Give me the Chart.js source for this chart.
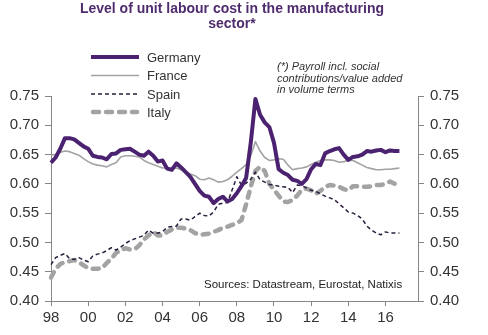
<!DOCTYPE html>
<html>
<head>
<meta charset="utf-8">
<script src="https://cdn.jsdelivr.net/npm/chart.js@4/dist/chart.umd.min.js"></script>
<style>
  html, body { margin: 0; padding: 0; background: #fff; }
  #wrap { position: relative; width: 488px; height: 335px; }
</style>
</head>
<body>
<div id="wrap"><canvas id="ulc-chart" width="488" height="335"></canvas></div>
<script>
// quarterly observations, 1998 Q1 .. 2016 Q4 (axis runs on to end of 2017)
const firstYear = 1998;
const lastYear = 2017;

const germany = [
    0.636, 0.645, 0.660, 0.678, 0.678, 0.676, 0.670, 0.664,
    0.660, 0.648, 0.646, 0.645, 0.642, 0.651, 0.652, 0.658,
    0.659, 0.660, 0.655, 0.650, 0.648, 0.655, 0.648, 0.638,
    0.640, 0.626, 0.624, 0.635, 0.628, 0.620, 0.612, 0.600,
    0.588, 0.580, 0.578, 0.567, 0.574, 0.578, 0.570, 0.574,
    0.584, 0.596, 0.610, 0.670, 0.745, 0.718, 0.705, 0.697,
    0.670, 0.625, 0.619, 0.615, 0.607, 0.605, 0.600, 0.608,
    0.625, 0.634, 0.632, 0.652, 0.656, 0.659, 0.661, 0.650,
    0.641, 0.646, 0.647, 0.650, 0.656, 0.655, 0.657, 0.658,
    0.654, 0.657, 0.656, 0.656
];
const france = [
    0.649, 0.650, 0.654, 0.656, 0.655, 0.652, 0.649, 0.643,
    0.638, 0.634, 0.632, 0.631, 0.629, 0.633, 0.636, 0.646,
    0.648, 0.648, 0.647, 0.646, 0.640, 0.636, 0.633, 0.630,
    0.627, 0.627, 0.626, 0.627, 0.624, 0.620, 0.617, 0.614,
    0.608, 0.607, 0.610, 0.607, 0.603, 0.604, 0.607, 0.613,
    0.620, 0.626, 0.633, 0.648, 0.672, 0.656, 0.645, 0.640,
    0.641, 0.643, 0.642, 0.632, 0.624, 0.626, 0.627, 0.629,
    0.633, 0.637, 0.640, 0.641, 0.641, 0.640, 0.637, 0.638,
    0.640, 0.640, 0.636, 0.632, 0.628, 0.626, 0.624, 0.624,
    0.625, 0.625, 0.626, 0.627
];
const spain = [
    0.462, 0.474, 0.478, 0.481, 0.472, 0.471, 0.474, 0.470,
    0.467, 0.477, 0.480, 0.482, 0.486, 0.491, 0.487, 0.492,
    0.498, 0.503, 0.506, 0.509, 0.512, 0.521, 0.516, 0.516,
    0.518, 0.526, 0.527, 0.528, 0.540, 0.540, 0.538, 0.544,
    0.550, 0.546, 0.545, 0.552, 0.565, 0.567, 0.568, 0.590,
    0.612, 0.598, 0.601, 0.608, 0.620, 0.607, 0.603, 0.599,
    0.598, 0.596, 0.595, 0.594, 0.585, 0.598, 0.597, 0.593,
    0.589, 0.587, 0.583, 0.579, 0.576, 0.573, 0.566, 0.559,
    0.552, 0.550, 0.546, 0.540, 0.528, 0.521, 0.516, 0.513,
    0.518, 0.516, 0.516, 0.516
];
const italy = [
    0.440, 0.455, 0.463, 0.467, 0.468, 0.470, 0.466, 0.461,
    0.456, 0.455, 0.455, 0.456, 0.465, 0.472, 0.482, 0.487,
    0.490, 0.488, 0.488, 0.495, 0.505, 0.512, 0.518, 0.512,
    0.512, 0.518, 0.522, 0.525, 0.525, 0.524, 0.521, 0.516,
    0.513, 0.514, 0.515, 0.518, 0.521, 0.525, 0.527, 0.530,
    0.533, 0.538, 0.565, 0.595, 0.622, 0.629, 0.622, 0.600,
    0.590, 0.580, 0.570, 0.569, 0.572, 0.580, 0.590, 0.592,
    0.589, 0.583, 0.588, 0.595, 0.598, 0.597, 0.595, 0.591,
    0.589, 0.596, 0.596, 0.595, 0.595, 0.596, 0.598, 0.598,
    0.600, 0.604, 0.600, 0.598
];

const yTicks = [0.40, 0.45, 0.50, 0.55, 0.60, 0.65, 0.70, 0.75];

const titleLines = ['Level of unit labour cost in the manufacturing', 'sector*'];
const noteLines = ['(*) Payroll incl. social', 'contributions/value added', 'in volume terms'];
const sourceText = 'Sources: Datastream, Eurostat, Natixis';

// quarter labels
const quarters = [];
for (let y = firstYear; y <= lastYear; y++) {
    for (let q = 1; q <= 4; q++) quarters.push(y + ' Q' + q);
}

const FONT = "'Liberation Sans', Arial, sans-serif";
const axisGrey = '#868686';

const series = [
    { label: 'Germany', data: germany, color: '#4b2270', width: 4, dash: [], cap: 'butt', order: 1 },
    { label: 'France', data: france, color: '#a3a3a3', width: 1.6, dash: [], cap: 'butt', order: 3 },
    { label: 'Spain', data: spain, color: '#2a1c3c', width: 1.5, dash: [4, 3], cap: 'butt', order: 2 },
    { label: 'Italy', data: italy, color: '#a3a3a3', width: 4.5, dash: [6, 7], cap: 'round', order: 4 }
];

const yScale = (position, width) => ({
    position: position,
    min: 0.40,
    max: 0.75,
    afterBuildTicks: s => { s.ticks = yTicks.map(v => ({ value: v })); },
    afterFit: s => { s.width = width; },
    grid: { drawOnChartArea: false, drawTicks: true, tickLength: 6, color: axisGrey },
    border: { display: true, color: axisGrey, width: 1 },
    ticks: {
        padding: 6,
        color: '#333',
        font: { family: FONT, size: 15 },
        callback: v => v.toFixed(2)
    }
});

const overlay = {
    id: 'overlay',
    afterDraw(chart) {
        const c = chart.ctx;
        c.save();
        // title
        c.fillStyle = '#4f2c6e';
        c.font = 'bold 14px ' + FONT;
        c.textAlign = 'center';
        c.textBaseline = 'middle';
        c.fillText(titleLines[0], 232, 9);
        c.fillText(titleLines[1], 232, 24);

        // legend
        const ly = [57, 75.5, 94, 112];
        c.textAlign = 'left';
        c.font = '13px ' + FONT;
        series.forEach((s, i) => {
            c.beginPath();
            c.strokeStyle = s.color;
            c.lineWidth = s.width;
            c.lineCap = s.cap;
            c.setLineDash(s.dash);
            c.moveTo(s.cap === 'round' ? 93 : 91, ly[i]);
            c.lineTo(s.cap === 'round' ? 137 : 139, ly[i]);
            c.stroke();
            c.setLineDash([]);
            c.fillStyle = '#333';
            c.fillText(s.label, 147, ly[i] + 1);
        });

        // note
        c.font = 'italic 11px ' + FONT;
        c.fillStyle = '#333';
        noteLines.forEach((t, i) => c.fillText(t, 277, 67 + i * 11.5));

        // sources
        c.font = '11.5px ' + FONT;
        c.fillStyle = '#222';
        c.fillText(sourceText, 204, 285);
        c.restore();
    }
};

const ctx = document.getElementById('ulc-chart').getContext('2d');

new Chart(ctx, {
    type: 'line',
    data: {
        labels: quarters,
        datasets: series.map(s => ({
            label: s.label,
            data: s.data,
            borderColor: s.color,
            borderWidth: s.width,
            borderDash: s.dash,
            borderCapStyle: s.cap,
            borderJoinStyle: 'round',
            pointRadius: 0,
            tension: 0,
            fill: false,
            order: s.order
        }))
    },
    options: {
        responsive: false,
        animation: false,
        layout: { padding: { top: 96, left: 0, right: 0, bottom: 0 } },
        plugins: {
            legend: { display: false },
            title: { display: false },
            tooltip: { enabled: false }
        },
        scales: {
            x: {
                type: 'category',
                offset: false,
                afterBuildTicks: s => {
                    s.ticks = s.ticks.filter(t => {
                        const lab = quarters[t.value];
                        return lab.endsWith('Q1') && parseInt(lab) % 2 === 0 && parseInt(lab) <= 2016;
                    });
                },
                afterFit: s => { s.height = 34; },
                grid: { drawOnChartArea: false, drawTicks: true, tickLength: 5, color: axisGrey },
                border: { display: true, color: axisGrey, width: 1 },
                ticks: {
                    autoSkip: false,
                    maxRotation: 0,
                    padding: 3,
                    color: '#333',
                    font: { family: FONT, size: 15 },
                    callback: function (v) { return quarters[v].slice(2, 4); }
                }
            },
            y: yScale('left', 51),
            y2: yScale('right', 70)
        }
    },
    plugins: [overlay]
});
</script>
</body>
</html>
